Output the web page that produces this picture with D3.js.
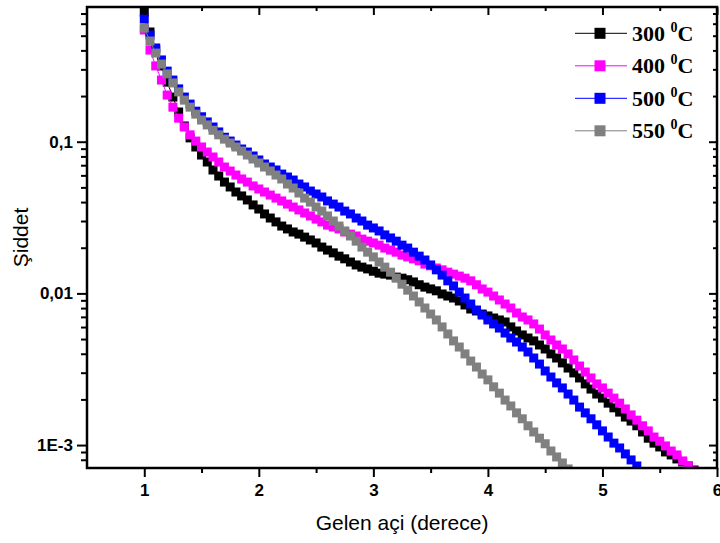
<!DOCTYPE html>
<html><head><meta charset="utf-8">
<script src="https://cdn.jsdelivr.net/npm/d3@7"></script>
<style>body{margin:0;background:#fff}svg{display:block}</style>
</head><body>
<script>
// ---- data ----
const angles = [1.00,1.05,1.10,1.15,1.20,1.25,1.30,1.35,1.40,1.45,
1.50,1.55,1.60,1.65,1.70,1.75,1.80,1.85,1.90,1.95,
2.00,2.05,2.10,2.15,2.20,2.25,2.30,2.35,2.40,2.45,
2.50,2.55,2.60,2.65,2.70,2.75,2.80,2.85,2.90,2.95,
3.00,3.05,3.10,3.15,3.20,3.25,3.30,3.35,3.40,3.45,
3.50,3.55,3.60,3.65,3.70,3.75,3.80,3.85,3.90,3.95,
4.00,4.05,4.10,4.15,4.20,4.25,4.30,4.35,4.40,4.45,
4.50,4.55,4.60,4.65,4.70,4.75,4.80,4.85,4.90,4.95,
5.00,5.05,5.10,5.15,5.20,5.25,5.30,5.35,5.40,5.45,
5.50,5.55,5.60,5.65,5.70,5.75,5.80];

const s300 = [0.716,0.529,0.402,0.316,0.247,0.197,0.157,0.127,0.106,0.0923,
0.0817,0.0735,0.0651,0.0594,0.0542,0.0503,0.0466,0.0439,0.0413,0.0383,
0.0360,0.0334,0.0314,0.0296,0.0278,0.0266,0.0254,0.0246,0.0235,0.0225,
0.0215,0.0202,0.0193,0.0185,0.0176,0.0169,0.0161,0.0154,0.0149,0.0145,
0.0140,0.0136,0.0134,0.0132,0.0128,0.0126,0.0123,0.0119,0.0114,0.0110,
0.0107,0.0104,0.00991,0.00961,0.00932,0.00891,0.00839,0.00789,0.00766,0.00731,
0.00710,0.00688,0.00668,0.00648,0.00601,0.00565,0.00532,0.00508,0.00486,0.00457,
0.00430,0.00399,0.00375,0.00348,0.00322,0.00299,0.00277,0.00253,0.00234,0.00217,
0.00204,0.00189,0.00176,0.00165,0.00153,0.00144,0.00134,0.00122,0.00111,0.00103,
0.000972,0.000901,0.000861,0.000810,0.000774,0.000728,0.000685];

const s400 = [0.545,0.402,0.316,0.255,0.203,0.169,0.143,0.125,0.111,0.101,
0.0923,0.0855,0.0793,0.0735,0.0681,0.0641,0.0603,0.0568,0.0542,0.0511,
0.0488,0.0466,0.0445,0.0425,0.0407,0.0388,0.0371,0.0355,0.0339,0.0324,
0.0309,0.0296,0.0282,0.0274,0.0266,0.0254,0.0246,0.0239,0.0228,0.0221,
0.0215,0.0208,0.0199,0.0193,0.0187,0.0179,0.0174,0.0169,0.0164,0.0156,
0.0152,0.0147,0.0143,0.0138,0.0134,0.0130,0.0126,0.0121,0.0114,0.0107,
0.0102,0.00961,0.00905,0.00851,0.00801,0.00743,0.00699,0.00668,0.00629,0.00582,
0.00532,0.00493,0.00457,0.00430,0.00399,0.00364,0.00332,0.00303,0.00277,0.00253,
0.00238,0.00220,0.00204,0.00189,0.00173,0.00158,0.00146,0.00134,0.00124,0.00113,
0.00106,0.000987,0.000914,0.000861,0.000786,0.000728,0.000675];

const s500 = [0.644,0.505,0.415,0.346,0.292,0.255,0.223,0.197,0.177,0.159,
0.146,0.135,0.125,0.116,0.107,0.101,0.0951,0.0895,0.0855,0.0805,
0.0758,0.0713,0.0681,0.0651,0.0612,0.0585,0.0559,0.0526,0.0503,0.0473,
0.0452,0.0432,0.0407,0.0388,0.0371,0.0349,0.0334,0.0314,0.0300,0.0282,
0.0270,0.0258,0.0243,0.0232,0.0221,0.0208,0.0199,0.0187,0.0176,0.0166,
0.0154,0.0143,0.0132,0.0121,0.0112,0.0102,0.00932,0.00851,0.00777,0.00720,
0.00668,0.00629,0.00591,0.00548,0.00508,0.00478,0.00443,0.00411,0.00375,0.00342,
0.00308,0.00281,0.00257,0.00238,0.00217,0.00198,0.00178,0.00163,0.00149,0.00136,
0.00124,0.00113,0.00103,0.000957,0.000874,0.000798,0.000728,0.000665,0.000607];

const s550 = [0.562,0.461,0.384,0.325,0.280,0.244,0.213,0.188,0.169,0.152,
0.139,0.129,0.119,0.111,0.104,0.0980,0.0923,0.0868,0.0817,0.0769,
0.0724,0.0681,0.0641,0.0603,0.0568,0.0526,0.0495,0.0459,0.0425,0.0400,
0.0371,0.0349,0.0324,0.0300,0.0278,0.0258,0.0239,0.0221,0.0202,0.0187,
0.0174,0.0161,0.0149,0.0138,0.0126,0.0115,0.0105,0.00961,0.00878,0.00801,
0.00731,0.00668,0.00601,0.00540,0.00486,0.00443,0.00399,0.00358,0.00327,0.00294,
0.00269,0.00242,0.00220,0.00198,0.00181,0.00163,0.00149,0.00134,0.00122,0.00111,
0.00102,0.000914,0.000835,0.000762,0.000696,0.000635];

const seriesNames = ["300", "400", "500", "550"];
const seriesValues = [s300, s400, s500, s550];
const seriesColors = ["#000000", "#ff00ff", "#0000ff", "#808080"];

const xTickValues = [1, 2, 3, 4, 5, 6];
const xMinorValues = [1.5, 2.5, 3.5, 4.5, 5.5];
const yTickValues = [0.001, 0.01, 0.1];
const yTickLabels = ["1E-3", "0,01", "0,1"];
const xTitle = "Gelen açi (derece)";
const yTitle = "Şiddet";

// ---- layout ----
const W = 720, H = 543;
const L = 87, R = 717, T = 7, B = 468;

const svg = d3.select("body").append("svg").attr("width", W).attr("height", H);

const x = d3.scaleLinear().domain([0.5, 6]).range([L, R]);
const y = d3.scaleLog().domain([7.06e-4, 0.773]).range([B, T]);

// minor log ticks
const yMinor = [];
[0.0001, 0.001, 0.01, 0.1].forEach(dec => {
  for (let k = 2; k <= 9; k++) {
    const v = dec * k;
    if (v >= y.domain()[0] && v <= y.domain()[1]) yMinor.push(v);
  }
});

svg.append("defs").append("clipPath").attr("id", "clip")
  .append("rect").attr("x", L).attr("y", T).attr("width", R - L).attr("height", B - T);

// ---- series ----
const plot = svg.append("g").attr("clip-path", "url(#clip)");
const line = d3.line().x(d => x(d[0])).y(d => y(d[1]));
const MS = 9;
seriesValues.forEach((vals, i) => {
  const pts = vals.map((v, j) => [angles[j], v]);
  const g = plot.append("g");
  g.append("path").attr("d", line(pts)).attr("fill", "none")
    .attr("stroke", seriesColors[i]).attr("stroke-width", 1);
  g.selectAll("rect").data(pts).enter().append("rect")
    .attr("x", d => x(d[0]) - MS / 2).attr("y", d => y(d[1]) - MS / 2)
    .attr("width", MS).attr("height", MS)
    .attr("fill", seriesColors[i]);
});

// ---- axes ----
function styleAxis(g) {
  g.select(".domain").remove();
  g.selectAll(".tick line").attr("stroke", "#000").attr("stroke-width", 2);
  g.selectAll(".tick text").attr("fill", "#000")
    .style("font-family", "'Liberation Sans', Arial, sans-serif")
    .style("font-weight", "bold").style("font-size", "17px");
}
// bottom major
svg.append("g").attr("transform", `translate(0,${B})`)
  .call(d3.axisBottom(x).tickValues(xTickValues).tickSize(9).tickPadding(7).tickFormat(d3.format("d")))
  .call(styleAxis);
svg.append("g").attr("transform", `translate(0,${B})`)
  .call(d3.axisBottom(x).tickValues(xMinorValues).tickSize(5).tickFormat(""))
  .call(styleAxis);
// top (inward)
svg.append("g").attr("transform", `translate(0,${T})`)
  .call(d3.axisBottom(x).tickValues(xTickValues).tickSize(8).tickFormat(""))
  .call(styleAxis);
svg.append("g").attr("transform", `translate(0,${T})`)
  .call(d3.axisBottom(x).tickValues(xMinorValues).tickSize(4).tickFormat(""))
  .call(styleAxis);
// left
svg.append("g").attr("transform", `translate(${L},0)`)
  .call(d3.axisLeft(y).tickValues(yTickValues).tickSize(10).tickPadding(4)
    .tickFormat((d, i) => yTickLabels[i]))
  .call(styleAxis);
svg.append("g").attr("transform", `translate(${L},0)`)
  .call(d3.axisLeft(y).tickValues(yMinor).tickSize(6).tickFormat(""))
  .call(styleAxis);
// right (inward)
svg.append("g").attr("transform", `translate(${R},0)`)
  .call(d3.axisLeft(y).tickValues(yTickValues).tickSize(8).tickFormat(""))
  .call(styleAxis);
svg.append("g").attr("transform", `translate(${R},0)`)
  .call(d3.axisLeft(y).tickValues(yMinor).tickSize(4).tickFormat(""))
  .call(styleAxis);

// frame
svg.append("rect").attr("x", L).attr("y", T).attr("width", R - L).attr("height", B - T)
  .attr("fill", "none").attr("stroke", "#000").attr("stroke-width", 2.5);

// titles
svg.append("text").attr("x", (L + R) / 2).attr("y", 530).attr("text-anchor", "middle")
  .style("font-family", "'Liberation Sans', Arial, sans-serif").style("font-size", "21px")
  .text(xTitle);
svg.append("text").attr("transform", `translate(28,${(T + B) / 2}) rotate(-90)`)
  .attr("text-anchor", "middle")
  .style("font-family", "'Liberation Sans', Arial, sans-serif").style("font-size", "21px")
  .text(yTitle);

// ---- legend ----
const lg = svg.append("g");
seriesNames.forEach((name, i) => {
  const cy = 33.3 + i * 32.5;
  lg.append("line").attr("x1", 575).attr("x2", 627).attr("y1", cy).attr("y2", cy)
    .attr("stroke", seriesColors[i]).attr("stroke-width", 1);
  lg.append("rect").attr("x", 600 - 5.5).attr("y", cy - 5.5).attr("width", 11).attr("height", 11)
    .attr("fill", seriesColors[i]);
  const t = lg.append("text").attr("x", 632).attr("y", cy + 7.5)
    .style("font-family", "'Liberation Serif', 'Times New Roman', serif")
    .style("font-weight", "bold").style("font-size", "22px").attr("fill", "#000");
  t.append("tspan").text(name + " ");
  t.append("tspan").attr("dy", -9).style("font-size", "14px").text("0");
  t.append("tspan").attr("dy", 9).text("C");
});
</script>
</body></html>
